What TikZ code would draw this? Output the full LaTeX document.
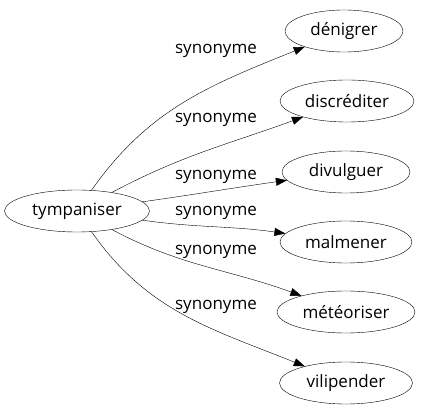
\documentclass[tikz,border=0pt]{standalone}
\usepackage{fontspec}
\setmainfont{Open Sans}
\usetikzlibrary{arrows.meta,shapes.geometric}
\begin{document}
\begin{tikzpicture}[x=1pt,y=-1pt,
  word/.style={draw,ellipse,minimum height=42pt,inner sep=0pt,font=\fontsize{17}{19}\selectfont},
  lbl/.style={font=\fontsize{17}{19}\selectfont,inner sep=0pt},
  edge/.style={-{Triangle[length=11pt,width=8pt]}}]
\useasboundingbox (0,0) rectangle (421,419);
\node[word,minimum width=145pt] (c) at (77,211) {tympaniser};
\node[word,minimum width=118pt] (a1) at (344,31) {dénigrer};
\node[word,minimum width=134pt] (a2) at (347,101) {discréditer};
\node[word,minimum width=128pt] (a3) at (346,172) {divulguer};
\node[word,minimum width=132pt] (a4) at (346,242) {malmener};
\node[word,minimum width=138pt] (a5) at (346,312) {météoriser};
\node[word,minimum width=133pt] (a6) at (346,383) {vilipender};
\draw[edge] (c) to[out=55,in=202] (a1);
\draw[edge] (c) to[out=28,in=200] (a2);
\draw[edge] (c) to[out=8,in=188] (a3);
\draw[edge] (c) to[out=-8,in=172] (a4);
\draw[edge] (c) to[out=-28,in=160] (a5);
\draw[edge] (c) to[out=-55,in=158] (a6);
\node[lbl] (l1) at (216,51) {synonyme};
\node[lbl] (l2) at (216,120) {synonyme};
\node[lbl] (l3) at (216,177) {synonyme};
\node[lbl] (l4) at (216,213) {synonyme};
\node[lbl] (l5) at (216,252) {synonyme};
\node[lbl] (l6) at (216,307) {synonyme};
\end{tikzpicture}
\end{document}
